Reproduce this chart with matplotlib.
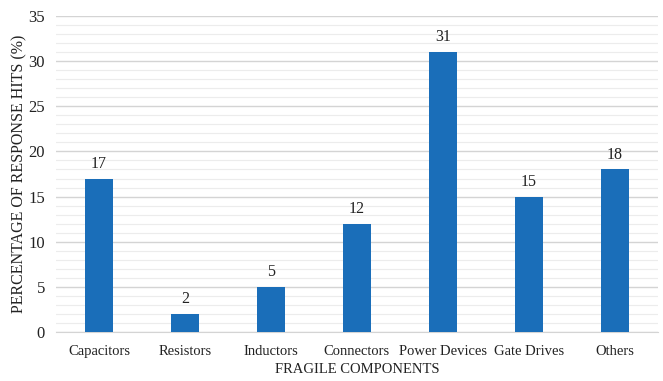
import matplotlib
matplotlib.use("Agg")
import matplotlib.pyplot as plt
from matplotlib.ticker import MultipleLocator

categories = ["Capacitors", "Resistors", "Inductors", "Connectors",
              "Power Devices", "Gate Drives", "Others"]
hits = [17, 2, 5, 12, 31, 15, 18]
y_ticks = [0, 5, 10, 15, 20, 25, 30, 35]

plt.rcParams["font.family"] = ["Liberation Serif", "DejaVu Serif"]

fig = plt.figure(figsize=(6.63, 3.81), dpi=100)
ax = fig.add_axes([0.0845, 0.1286, 0.9075, 0.8294])

x = list(range(len(categories)))
ax.bar(x, hits, width=0.33, color="#1a6eb9", zorder=3)
for xi, v in zip(x, hits):
    ax.text(xi, v + 0.75, str(v), ha="center", va="bottom", fontsize=11.5, color="#222222")

ax.set_xlim(-0.5, len(categories) - 0.5)
ax.set_ylim(0, 35)
ax.set_yticks(y_ticks)
ax.yaxis.set_minor_locator(MultipleLocator(1))
ax.set_xticks(x)
ax.set_xticklabels(categories)
ax.tick_params(axis="x", which="both", length=0, labelsize=10.5, colors="#222222", pad=9)
ax.tick_params(axis="y", which="both", length=0, labelsize=12, colors="#222222", pad=8)

ax.grid(axis="y", which="major", color="#d4d4d4", linewidth=1.0, zorder=0)
ax.grid(axis="y", which="minor", color="#ececec", linewidth=0.8, zorder=0)
for s in ["top", "right", "left"]:
    ax.spines[s].set_visible(False)
ax.spines["bottom"].set_color("#d4d4d4")

ax.set_xlabel("FRAGILE COMPONENTS", fontsize=10.5, color="#222222", labelpad=4)
ax.set_ylabel("PERCENTAGE OF RESPONSE HITS (%)", fontsize=11.5, color="#222222", labelpad=0)
ax.yaxis.set_label_coords(-0.047, 0.5)

fig.savefig("out.png", dpi=100)
